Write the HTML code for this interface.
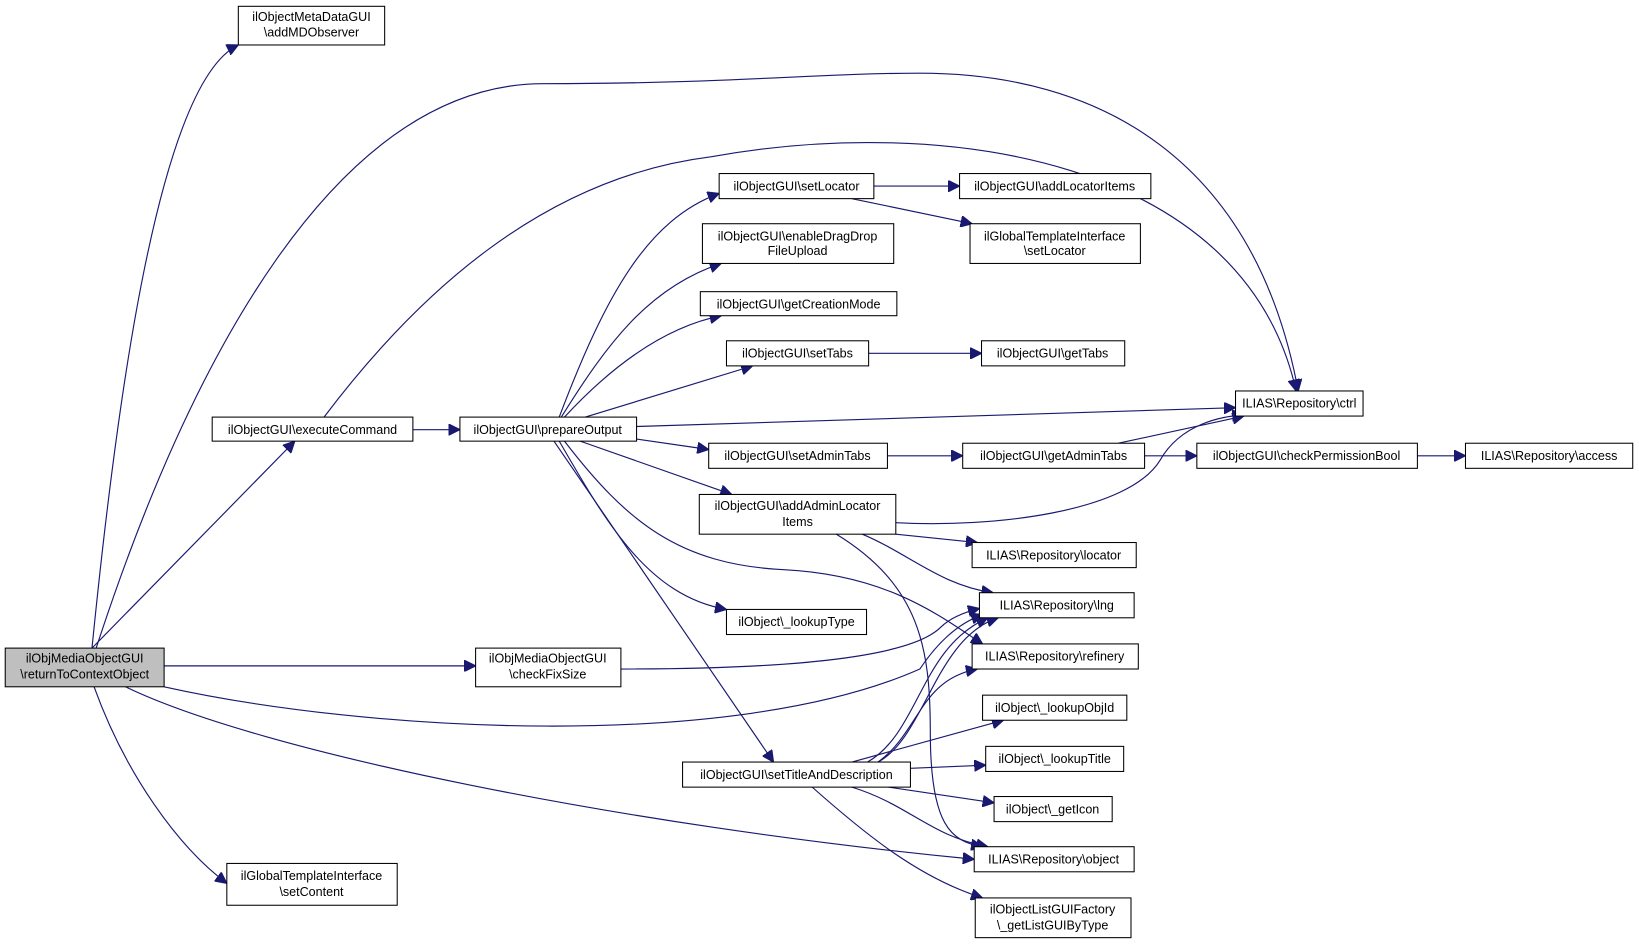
<!DOCTYPE html>
<html><head><meta charset="utf-8"><style>
html,body{margin:0;padding:0;background:#fff;}
svg{display:block}
text{font-family:"Liberation Sans",Arial,sans-serif;font-size:12px;fill:#000;text-anchor:middle}
.n{fill:#fff;stroke:#000;stroke-width:1}
.e{fill:none;stroke:#191970;stroke-width:1.1}
</style></head><body>
<svg width="1639" height="945" viewBox="0 0 1568 904" xmlns="http://www.w3.org/2000/svg">
<defs><marker id="a" viewBox="0 0 10 10" refX="10" refY="5" markerWidth="11" markerHeight="11" markerUnits="userSpaceOnUse" orient="auto"><path d="M0,0L10,5L0,10z" fill="#191970" stroke="#191970"/></marker></defs>
<g marker-end="url(#a)">
<path class="e" d="M88,620 C110,400 150,80 228,43"/>
<path class="e" d="M92,620 C180,350 320,80 520,80 C700,80 780,70 880,70 C1050,70 1200,150 1242,374"/>
<path class="e" d="M310,399 C400,280 520,170 680,150 C900,110 1190,150 1240,374"/>
<path class="e" d="M88,620 L282,422"/>
<path class="e" d="M395,411 L440,411"/>
<path class="e" d="M157,637 L455,637"/>
<path class="e" d="M594,640 C750,640 870,630 900,600 C910,590 925,585 937,582"/>
<path class="e" d="M157,657 C350,700 700,720 880,640 C900,610 920,595 940,588"/>
<path class="e" d="M120,657 C250,720 600,790 932,822"/>
<path class="e" d="M90,657 C120,740 170,810 217,845"/>
<path class="e" d="M535,399 C580,280 620,210 688,185"/>
<path class="e" d="M537,399 C580,330 620,275 690,252"/>
<path class="e" d="M540,399 C590,345 640,312 690,302"/>
<path class="e" d="M560,399 L720,350"/>
<path class="e" d="M609,408 L1182,390"/>
<path class="e" d="M609,420 L678,430"/>
<path class="e" d="M555,422 L700,473"/>
<path class="e" d="M535,422 C580,500 620,570 695,583"/>
<path class="e" d="M540,422 C600,500 650,540 750,545 C850,550 900,590 940,616"/>
<path class="e" d="M530,422 L740,729"/>
<path class="e" d="M836,178 L918,178"/>
<path class="e" d="M815,190 L930,214"/>
<path class="e" d="M831,338 L939,338"/>
<path class="e" d="M849,436 L921,436"/>
<path class="e" d="M1070,424 L1190,398"/>
<path class="e" d="M1095,436 L1145,436"/>
<path class="e" d="M1356,436 L1402,436"/>
<path class="e" d="M857,500 C950,505 1080,490 1110,440 C1130,405 1170,398 1190,397"/>
<path class="e" d="M857,511 L935,519"/>
<path class="e" d="M825,511 C870,530 900,560 950,567"/>
<path class="e" d="M800,511 C880,560 890,620 890,700 C890,790 910,805 940,810"/>
<path class="e" d="M830,729 C880,700 880,620 945,591"/>
<path class="e" d="M840,729 C885,705 895,610 955,591"/>
<path class="e" d="M840,729 C880,700 880,650 935,640"/>
<path class="e" d="M815,729 L960,689"/>
<path class="e" d="M871,735 L943,732"/>
<path class="e" d="M850,753 L951,768"/>
<path class="e" d="M815,753 C870,770 890,800 945,810"/>
<path class="e" d="M777,753 C830,800 880,840 940,859"/>
</g>
<rect x="5" y="620" width="152" height="37" fill="#bfbfbf" stroke="#000"/>
<text x="81" y="634">ilObjMediaObjectGUI</text><text x="81" y="649">\returnToContextObject</text>
<rect class="n" x="228" y="6" width="140" height="37"/><text x="298" y="20">ilObjectMetaDataGUI</text><text x="298" y="35">\addMDObserver</text>
<rect class="n" x="203" y="399" width="192" height="23"/><text x="299" y="415">ilObjectGUI\executeCommand</text>
<rect class="n" x="440" y="399" width="169" height="23"/><text x="524" y="415">ilObjectGUI\prepareOutput</text>
<rect class="n" x="455" y="620" width="139" height="37"/><text x="524" y="634">ilObjMediaObjectGUI</text><text x="524" y="649">\checkFixSize</text>
<rect class="n" x="217" y="826" width="163" height="40"/><text x="298" y="842">ilGlobalTemplateInterface</text><text x="298" y="857">\setContent</text>
<rect class="n" x="688" y="166" width="148" height="24"/><text x="762" y="182">ilObjectGUI\setLocator</text>
<rect class="n" x="672" y="214" width="183" height="38"/><text x="763" y="230">ilObjectGUI\enableDragDrop</text><text x="763" y="244">FileUpload</text>
<rect class="n" x="670" y="279" width="188" height="23"/><text x="764" y="295">ilObjectGUI\getCreationMode</text>
<rect class="n" x="695" y="326" width="136" height="24"/><text x="763" y="342">ilObjectGUI\setTabs</text>
<rect class="n" x="678" y="424" width="171" height="24"/><text x="763" y="440">ilObjectGUI\setAdminTabs</text>
<rect class="n" x="669" y="473" width="188" height="38"/><text x="763" y="488">ilObjectGUI\addAdminLocator</text><text x="763" y="503">Items</text>
<rect class="n" x="695" y="583" width="134" height="24"/><text x="762" y="599">ilObject\_lookupType</text>
<rect class="n" x="653" y="729" width="218" height="24"/><text x="762" y="745">ilObjectGUI\setTitleAndDescription</text>
<rect class="n" x="918" y="166" width="183" height="24"/><text x="1009" y="182">ilObjectGUI\addLocatorItems</text>
<rect class="n" x="928" y="214" width="163" height="38"/><text x="1009" y="230">ilGlobalTemplateInterface</text><text x="1009" y="244">\setLocator</text>
<rect class="n" x="939" y="326" width="137" height="24"/><text x="1007" y="342">ilObjectGUI\getTabs</text>
<rect class="n" x="1182" y="374" width="122" height="24"/><text x="1243" y="390">ILIAS\Repository\ctrl</text>
<rect class="n" x="921" y="424" width="174" height="24"/><text x="1008" y="440">ilObjectGUI\getAdminTabs</text>
<rect class="n" x="1145" y="424" width="211" height="24"/><text x="1250" y="440">ilObjectGUI\checkPermissionBool</text>
<rect class="n" x="1402" y="424" width="160" height="24"/><text x="1482" y="440">ILIAS\Repository\access</text>
<rect class="n" x="930" y="519" width="157" height="24"/><text x="1008" y="535">ILIAS\Repository\locator</text>
<rect class="n" x="937" y="567" width="148" height="24"/><text x="1011" y="583">ILIAS\Repository\lng</text>
<rect class="n" x="930" y="616" width="159" height="24"/><text x="1009" y="632">ILIAS\Repository\refinery</text>
<rect class="n" x="940" y="665" width="138" height="24"/><text x="1009" y="681">ilObject\_lookupObjId</text>
<rect class="n" x="943" y="714" width="132" height="24"/><text x="1009" y="730">ilObject\_lookupTitle</text>
<rect class="n" x="951" y="762" width="113" height="24"/><text x="1007" y="778">ilObject\_getIcon</text>
<rect class="n" x="932" y="810" width="153" height="24"/><text x="1008" y="826">ILIAS\Repository\object</text>
<rect class="n" x="933" y="859" width="149" height="38"/><text x="1007" y="874">ilObjectListGUIFactory</text><text x="1007" y="889">\_getListGUIByType</text>
</svg>
</body></html>
